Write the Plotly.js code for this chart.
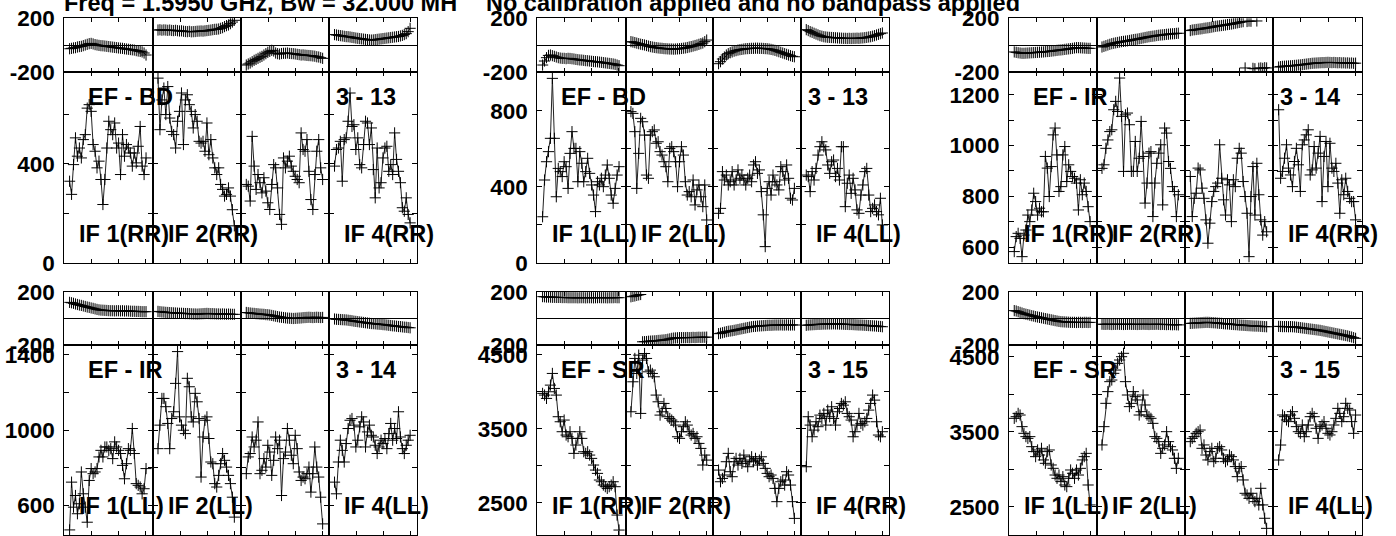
<!DOCTYPE html>
<html><head><meta charset="utf-8">
<script src="https://cdn.plot.ly/plotly-3.0.1.min.js"></script>
<style>html,body{margin:0;padding:0;background:#fff}#chart{width:1396px;height:536px}</style>
</head><body><div id="chart"></div>
<script>
// ---------------- DATA ----------------
const chan = [1,2,3,4,5,6,7,8,9,10,11,12,13,14,15,16,17,18,19,20,21,22,23,24,25,26,27,28,29,30,31,32,33,34,35,36,37,38,39,40];
const titleLeft = "Freq = 1.5950 GHz, Bw = 32.000 MH";
const titleRight = "No calibration applied and no bandpass applied";
const baselines = ["EF - BD","EF - BD","EF - IR","EF - IR","EF - SR","EF - SR"];
const antLabels = ["3 - 13","3 - 13","3 - 14","3 - 14","3 - 15","3 - 15"];
const pols = ["RR","LL","RR","LL","RR","LL"];
const ifNames = ["IF 1","IF 2","","IF 4"];

// amplitude, group 1 (EF-BD RR)
const ampG1 = [
 [330,277,397,505,431,464,424,498,518,625,639,612,478,451,384,411,337,236,337,464,572,538,518,565,464,484,357,518,431,478,464,444,391,444,404,471,551,391,357,424],
 [746,538,658,706,599,712,585,531,518,464,572,612,686,478,658,679,639,612,545,599,572,491,484,491,451,565,437,498,424,384,357,384,317,297,270,277,303,270,215,150],
 [317,310,250,511,391,297,357,324,283,344,290,243,216,317,397,384,303,196,156,424,384,411,431,391,370,350,337,324,525,458,451,498,370,256,216,357,451,498,384,337],
 [391,458,464,491,330,498,505,572,686,551,558,458,505,397,384,478,572,565,478,545,377,263,464,303,324,424,464,471,370,397,357,525,418,370,324,223,209,263,196,162]
];
// amplitude, group 2 (EF-BD LL)
const ampG2 = [
 [243,436,532,585,655,970,655,348,497,480,454,532,506,392,576,690,602,602,427,585,524,427,480,550,471,410,357,270,427,410,445,401,462,515,445,357,314,392,462,506],
 [795,786,690,392,576,760,742,672,462,445,672,690,699,629,637,585,567,532,506,427,602,611,585,532,401,532,611,567,427,357,375,348,436,305,384,410,348,296,410,226],
 [261,287,480,436,462,410,427,480,410,436,489,445,462,436,410,445,462,427,515,532,471,489,375,253,86,392,427,357,462,427,410,384,506,480,436,515,445,340,331,392],
 [462,454,375,480,436,497,567,611,637,611,594,515,471,532,541,454,497,436,611,611,296,419,462,366,445,384,279,261,357,410,480,497,357,270,287,305,270,253,340,200]
];
// amplitude, group 3 (EF-IR RR)
const ampG3 = [
 [582,641,654,634,562,647,667,726,700,746,812,779,726,753,739,739,957,911,799,917,1042,1069,963,819,838,963,996,858,924,898,878,871,852,746,865,806,852,819,759,700],
 [910,924,989,1022,1055,1062,1141,1174,1134,1266,1115,898,1121,1128,1082,898,898,1016,898,950,1095,957,773,852,970,976,720,852,930,970,1003,766,1069,1049,937,910,838,819,720,806],
 [878,720,792,812,911,904,832,792,707,615,694,779,819,838,852,1003,871,786,726,865,845,700,865,838,950,989,970,858,799,733,562,799,917,726,930,806,707,647,700,660],
 [1141,871,898,950,1003,911,884,838,937,989,924,819,1003,1022,1042,1062,884,904,996,911,970,1036,779,957,1016,838,1009,911,898,930,852,733,865,806,871,819,792,779,779,707]
];
// amplitude, group 4 (EF-IR LL)
const ampG4 = [
 [470,724,591,653,556,609,778,662,591,511,733,796,769,778,796,858,893,858,911,911,893,902,849,938,911,893,876,813,742,822,902,893,1009,876,716,707,698,662,689,796],
 [902,1027,1169,1169,1125,1036,902,1062,1098,1249,1418,1071,1027,1000,982,1276,1231,1071,1044,1196,1151,1062,751,964,1053,1071,956,831,822,716,698,760,822,876,840,804,760,716,644,538],
 [769,858,876,964,911,947,1044,769,787,849,804,920,884,760,840,964,902,947,653,849,884,1009,947,867,822,973,902,778,733,751,742,769,804,671,769,911,804,751,644,502],
 [724,662,831,947,893,831,929,1009,1053,1062,1027,911,947,1018,1071,1044,911,991,1027,973,964,920,876,911,947,929,956,902,982,1036,947,1009,956,1098,964,902,876,920,947,973]
];
// amplitude, group 5 (EF-SR RR)
const ampG5 = [
 [3980,3957,3912,4002,4092,4250,4047,3957,3664,3596,3461,3619,3416,3393,3461,3371,3168,3281,3371,3461,3371,3190,3168,3190,3145,3100,3010,2942,2897,2807,2784,2739,2717,2694,2717,2739,2784,2717,2333,2130],
 [3731,4137,4453,4250,4498,3709,4430,4520,4453,4272,4295,4250,4205,3957,3866,3686,3731,3844,3776,3664,3641,3619,3596,3551,3393,3371,3461,3529,3596,3551,3461,3416,3438,3371,3393,3303,3235,3010,3145,3077],
 [2942,2784,2829,2875,3055,3168,2920,2852,3055,3100,3010,3100,3032,3145,3055,2987,3077,3122,3055,3100,3010,3077,3122,3032,2965,2897,2852,2875,2829,2694,2514,2694,2784,2807,2739,2920,2875,2739,2514,2288],
 [2987,3664,3551,3393,3483,3596,3529,3686,3641,3709,3551,3754,3664,3799,3641,3551,3731,3776,3844,3821,3866,3709,3664,3619,3393,3461,3551,3709,3574,3551,3596,3641,3754,3844,3957,3889,3596,3416,3393,3461]
];
// amplitude, group 6 (EF-SR LL)
const ampG6 = [
 [3678,3700,3744,3722,3567,3478,3434,3411,3434,3300,3234,3167,3256,3189,3278,3123,3078,3234,3256,3056,3011,2922,2878,2922,2834,2900,2789,2767,2878,2989,2945,2878,2989,2922,3011,3123,3167,3211,2789,2523],
 [3323,3567,3878,4034,4167,4189,4278,4322,4411,4456,4500,4545,4167,3989,3834,3878,4034,3967,3923,3722,3767,3989,3856,3722,3700,3678,3611,3434,3411,3367,3211,3278,3323,3500,3367,3300,3256,3145,3011,3145],
 [3367,3411,3434,3478,3500,3522,3278,3323,3189,3123,3234,3278,3100,3145,3278,3300,3256,3145,3100,3123,3189,3167,3123,3034,2900,3011,3034,2856,2678,2656,2611,2678,2611,2567,2611,2523,2745,2523,2345,2211],
 [3122,3322,3722,3700,3656,3634,3722,3767,3678,3567,3500,3478,3589,3433,3500,3589,3700,3744,3700,3545,3411,3567,3589,3634,3545,3478,3456,3500,3589,3678,3811,3744,3634,3700,3878,3811,3789,3634,3478,3722]
];

// phase (degrees)
const phG1 = [
 [-28,-25,-22,-20,-15,-12,-10,-5,0,5,10,12,8,3,0,-3,-5,-6,-8,-10,-12,-14,-16,-18,-20,-22,-24,-25,-28,-30,-32,-34,-36,-38,-42,-45,-48,-52,-60,-75],
 [112,114,111,113,112,110,112,109,108,110,107,105,106,103,101,100,102,99,100,101,103,104,105,104,106,108,110,112,115,117,118,120,125,130,138,145,150,160,172,185],
 [-150,-142,-135,-125,-115,-108,-100,-92,-85,-75,-65,-55,-48,-40,-45,-60,-65,-68,-64,-62,-62,-60,-63,-64,-65,-67,-70,-72,-75,-74,-76,-78,-79,-80,-82,-84,-88,-90,-95,-100],
 [78,75,72,70,68,65,63,62,60,57,55,52,50,48,46,44,42,40,38,37,38,40,42,44,46,48,50,52,54,56,58,60,62,64,68,72,78,85,100,125]
];
const phG2 = [
 [-150,-120,-95,-78,-75,-80,-85,-90,-95,-98,-100,-100,-102,-100,-101,-103,-105,-108,-110,-112,-113,-115,-117,-118,-120,-122,-124,-125,-126,-128,-130,-132,-134,-136,-138,-140,-142,-145,-150,-155],
 [25,22,18,14,10,6,3,0,-4,-8,-12,-15,-18,-20,-22,-24,-25,-27,-28,-29,-30,-30,-31,-30,-29,-28,-26,-24,-22,-19,-15,-12,-8,-4,0,5,10,15,25,37],
 [-140,-125,-105,-90,-75,-65,-58,-52,-46,-42,-38,-35,-33,-30,-28,-27,-26,-25,-25,-24,-24,-25,-25,-26,-27,-28,-30,-33,-36,-40,-45,-50,-55,-60,-65,-70,-75,-80,-85,-88],
 [115,108,100,95,88,82,76,70,66,62,60,58,57,56,55,54,53,52,51,50,50,49,50,49,50,50,51,50,52,53,55,57,60,62,66,70,75,80,85,90]
];
const phG3 = [
 [-52,-55,-58,-60,-62,-62,-61,-60,-59,-58,-57,-56,-55,-54,-53,-52,-50,-49,-48,-46,-44,-42,-40,-38,-37,-35,-33,-31,-29,-27,-25,-22,-20,-20,-21,-22,-23,-24,-25,-25],
 [-15,-10,-5,0,5,10,13,16,19,22,25,27,29,31,34,37,40,42,44,47,50,53,56,59,62,64,66,68,71,73,75,76,78,80,81,83,84,85,87,88],
 [108,112,114,116,118,120,122,125,127,129,131,134,137,140,142,144,146,148,150,153,155,157,160,163,166,169,172,175,-172,176,179,178,-175,-178,180,-174,-172,-175,-170,-172],
 [-165,-162,-160,-159,-158,-157,-156,-155,-153,-152,-150,-149,-147,-145,-143,-141,-139,-137,-136,-135,-134,-133,-132,-132,-131,-130,-131,-132,-131,-132,-133,-132,-134,-133,-135,-134,-136,-135,-137,-136]
];
const phG4 = [
 [120,117,113,108,104,100,97,93,89,85,82,78,75,71,67,64,62,61,60,59,58,57,57,56,57,57,56,57,55,56,55,54,53,53,52,52,51,50,50,50],
 [52,50,48,47,45,44,43,42,41,40,39,38,38,37,36,36,35,34,33,33,32,33,34,35,36,37,36,35,35,34,33,33,32,33,32,31,32,31,30,30],
 [44,42,40,38,37,35,34,32,31,30,28,27,25,22,19,16,13,10,8,6,4,2,1,0,-1,0,1,2,3,5,6,7,8,7,6,7,8,7,6,7],
 [-5,-7,-8,-9,-10,-11,-12,-14,-16,-18,-21,-23,-25,-27,-29,-31,-33,-35,-37,-39,-40,-41,-43,-44,-45,-47,-48,-50,-52,-54,-56,-57,-59,-61,-62,-64,-66,-67,-69,-71]
];
const phG5 = [
 [163,162,160,160,159,158,158,157,157,157,156,156,156,155,155,155,155,155,154,155,155,155,154,155,155,155,154,155,155,156,155,155,155,154,155,155,155,156,155,155],
 [162,165,168,172,176,179,-176,-175,-174,-172,-171,-170,-169,-168,-166,-165,-163,-162,-160,-157,-154,-150,-148,-147,-146,-145,-145,-145,-145,-144,-145,-144,-143,-144,-143,-142,-143,-142,-142,-141],
 [-115,-112,-108,-104,-100,-97,-95,-93,-90,-87,-84,-81,-78,-75,-72,-69,-66,-63,-61,-60,-58,-57,-56,-55,-54,-53,-52,-52,-51,-50,-50,-50,-49,-50,-50,-49,-50,-50,-49,-50],
 [-52,-50,-49,-48,-47,-46,-45,-45,-44,-43,-43,-42,-42,-42,-41,-42,-42,-43,-43,-44,-45,-45,-46,-46,-47,-48,-49,-50,-50,-51,-52,-53,-54,-55,-56,-57,-58,-60,-61,-63]
];
const phG6 = [
 [58,55,50,45,40,35,31,28,24,20,17,13,10,7,4,1,-2,-5,-8,-11,-14,-17,-20,-23,-25,-26,-27,-28,-29,-30,-30,-30,-31,-30,-30,-31,-30,-30,-31,-30],
 [-44,-45,-45,-44,-45,-46,-45,-45,-44,-45,-45,-46,-45,-45,-44,-45,-45,-45,-46,-45,-45,-44,-45,-45,-46,-45,-45,-45,-44,-45,-46,-45,-46,-47,-46,-47,-48,-47,-48,-49],
 [-38,-37,-36,-35,-34,-33,-32,-31,-30,-30,-31,-32,-33,-34,-36,-37,-38,-40,-41,-42,-43,-45,-46,-47,-48,-50,-51,-52,-53,-54,-55,-56,-57,-58,-58,-59,-60,-61,-62,-63],
 [-60,-61,-62,-62,-62,-63,-62,-63,-64,-66,-68,-70,-72,-74,-76,-78,-80,-82,-84,-86,-88,-90,-93,-96,-99,-102,-105,-108,-111,-114,-117,-120,-123,-126,-129,-132,-136,-140,-145,-150]
];

// amplitude axis ranges and labelled ticks per group
const ampRanges = [[0,772],[0,1005],[537,1291],[443,1453],[2063,4635],[2122,4656]];
const ampTickVals = [
 [0,200,400,600],[0,200,400,600,800,1000],[600,700,800,900,1000,1100,1200],
 [600,800,1000,1200,1400],[2500,3000,3500,4000,4500],[2500,3000,3500,4000,4500]];
const ampTickText = [
 ["0","","400",""],["0","","400","","800",""],["600","","800","","1000","","1200"],
 ["600","","1000","","1400"],["2500","","3500","","4500"],["2500","","3500","","4500"]];

// ---------------- LAYOUT GEOMETRY (pixels) ----------------
const W = 1396, H = 536;
const colEdges = [
 [64.3,152.7,241,329.3,416.7],
 [537.3,625.7,713.3,801,889],
 [1009,1096.7,1185,1273.3,1362.3]];
const rowGeom = [ {ph:[18.3,71.7], am:[71.7,263]}, {ph:[291.7,345], am:[345,535]} ];
const ampAll = [ampG1,ampG2,ampG3,ampG4,ampG5,ampG6];
const phAll = [phG1,phG2,phG3,phG4,phG5,phG6];
const XR = [-1.7, 43.4];
const XT = [12.28, 26.2, 39.96];

const FAM = '"Liberation Sans", Arial, Helvetica, sans-serif';
const FONT = {family:FAM, size:23.5, color:'#000', weight:'bold'};
const TFONT = {family:FAM, size:22.5, color:'#000', weight:'bold'};
const traces = [];
const layout = {
  width:W, height:H, margin:{l:0,r:0,t:0,b:0}, showlegend:false,
  paper_bgcolor:'#fff', plot_bgcolor:'#fff', font:FONT, annotations:[]
};
const px2x = p => p / W;
const px2y = p => 1 - p / H;

function baseX(dom, id){
  return {domain:dom, anchor:'y'+id, range:XR, tickvals:XT, ticks:'inside', ticklen:4, tickcolor:'#000',
    showticklabels:false, showline:true, linecolor:'#000', linewidth:1, mirror:'ticks',
    showgrid:false, zeroline:false, fixedrange:true};
}
function splitWraps(xs, ys){
  const ox=[], oy=[];
  for(let i=0;i<ys.length;i++){
    if(i>0 && Math.abs(ys[i]-ys[i-1])>180){ ox.push((xs[i]+xs[i-1])/2); oy.push(null); }
    ox.push(xs[i]); oy.push(ys[i]);
  }
  return [ox, oy];
}
const markerStyle = {symbol:'cross-thin', size:8, line:{color:'#000', width:1}, color:'#000'};
const lineStyle = {color:'#222', width:1};

let k = 0;
for(let g=0; g<6; g++){
  const col = g % 3, row = Math.floor(g/3);
  const ed = colEdges[col], rg = rowGeom[row];
  for(let s=0; s<4; s++){
    const xd = [px2x(ed[s]), px2x(ed[s+1])];
    // phase panel
    k++; let id = k===1 ? '' : String(k);
    layout['xaxis'+id] = baseX(xd, id);
    layout['yaxis'+id] = {domain:[px2y(rg.ph[1]), px2y(rg.ph[0])], anchor:'x'+id, range:[-200,200],
      tickvals:[-200,200], ticktext:['-200','200'], ticks:'', showticklabels: s===0, tickfont:TFONT,
      showline:true, linecolor:'#000', linewidth:1, mirror:true, showgrid:false,
      zeroline:true, zerolinecolor:'#000', zerolinewidth:1, fixedrange:true, ticklabelstandoff:4};
    const [px, py] = splitWraps(chan, phAll[g][s]);
    traces.push({type:'scatter', mode:'lines+markers', x:px, y:py, connectgaps:false,
      xaxis:'x'+id, yaxis:'y'+id, marker:markerStyle, line:lineStyle, cliponaxis:true, hoverinfo:'skip'});
    // amplitude panel
    k++; id = String(k);
    layout['xaxis'+id] = baseX(xd, id);
    layout['yaxis'+id] = {domain:[px2y(rg.am[1]), px2y(rg.am[0])], anchor:'x'+id, range:ampRanges[g],
      tickvals:ampTickVals[g], ticktext:ampTickText[g], ticks:'inside', ticklen:5, tickcolor:'#000',
      showticklabels: s===0, tickfont:TFONT, showline:true, linecolor:'#000', linewidth:1, mirror:'ticks',
      showgrid:false, zeroline:false, fixedrange:true, ticklabelstandoff:4};
    traces.push({type:'scatter', mode:'lines+markers', x:chan, y:ampAll[g][s],
      xaxis:'x'+id, yaxis:'y'+id, marker:markerStyle, line:lineStyle, cliponaxis:true, hoverinfo:'skip'});
    // IF label
    if(ifNames[s]){
      layout.annotations.push({text: ifNames[s] + '(' + pols[g] + ')', xref:'paper', yref:'paper',
        x:px2x(ed[s]+13), y:px2y(rg.am[1]-29), xanchor:'left', yanchor:'middle', showarrow:false, font:FONT});
    }
  }
  layout.annotations.push({text: baselines[g], xref:'paper', yref:'paper', x:px2x(ed[0]+22), y:px2y(rg.am[0]+25),
    xanchor:'left', yanchor:'middle', showarrow:false, font:FONT});
  layout.annotations.push({text: antLabels[g], xref:'paper', yref:'paper', x:px2x(ed[3]+5), y:px2y(rg.am[0]+25),
    xanchor:'left', yanchor:'middle', showarrow:false, font:FONT});
}
layout.annotations.push({text: titleLeft, xref:'paper', yref:'paper', x:px2x(62), y:px2y(3), xanchor:'left', yanchor:'middle', showarrow:false, font:FONT});
layout.annotations.push({text: titleRight, xref:'paper', yref:'paper', x:px2x(484), y:px2y(3), xanchor:'left', yanchor:'middle', showarrow:false, font:FONT});

Plotly.newPlot('chart', traces, layout, {displayModeBar:false, staticPlot:true});
</script></body></html>
